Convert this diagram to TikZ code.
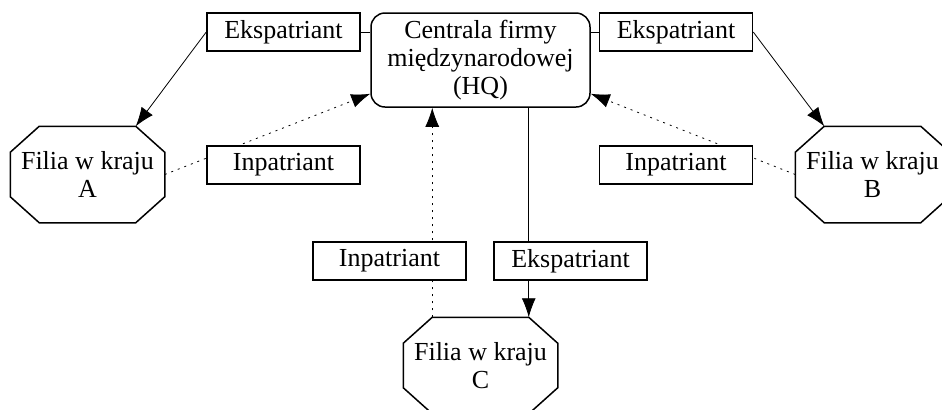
\documentclass[tikz,border=0pt]{standalone}
\usepackage{fontspec}
\setmainfont{Liberation Serif}
\usetikzlibrary{arrows.meta, backgrounds}
\newcommand{\cutx}{14.5pt}
\newcommand{\cuty}{13pt}
% octagon round a node, corners of its top edge named <node>-tl and <node>-tr
\newcommand{\octo}[1]{%
  \draw ([xshift=\cutx]#1.north west) coordinate (#1-tl)
     -- ([xshift=-\cutx]#1.north east) coordinate (#1-tr)
     -- ([yshift=-\cuty]#1.north east) -- ([yshift=\cuty]#1.south east)
     -- ([xshift=-\cutx]#1.south east) -- ([xshift=\cutx]#1.south west)
     -- ([yshift=\cuty]#1.south west) -- ([yshift=-\cuty]#1.north west) -- cycle;}

\begin{document}
\begin{tikzpicture}[
      x = 0.5pt, y = -0.5pt,
      font = \fontsize{13}{14}\selectfont,
      line width = 0.75pt,
      every node/.style = {align = center, inner sep = 0pt},
      hq/.style = {draw, fill = white, rounded corners = 7pt,
                   minimum width = 109.5pt, minimum height = 47pt},
      tag/.style = {draw, fill = white, minimum width = 76.5pt, minimum height = 19pt},
      filia/.style = {minimum width = 76.5pt, minimum height = 47.5pt},
      ekspat/.style = {-{Latex[length = 9.5pt, width = 7pt]}},
      inpat/.style = {ekspat, dash pattern = on 1pt off 2.5pt}]

      \useasboundingbox (0,0) rectangle (942,409);

      \node [hq] (hq) at (480.5,60) {Centrala firmy\\międzynarodowej\\(HQ)};

      \node [filia] (filA) at (87.5,174.5) {Filia w kraju\\A};
      \node [filia] (filB) at (872.5,174.5) {Filia w kraju\\B};
      \node [filia] (filC) at (480.5,365.5) {Filia w kraju\\C};
      \octo{filA}
      \octo{filB}
      \octo{filC}

      \node [tag] (eksA) at (283.5,32) {Ekspatriant};
      \node [tag] (eksB) at (676,32) {Ekspatriant};
      \node [tag] (eksC) at (570.5,261) {Ekspatriant};
      \node [tag] (inA) at (283.5,165) {Inpatriant};
      \node [tag] (inB) at (676,165) {Inpatriant};
      \node [tag] (inC) at (389.5,261) {Inpatriant};

      \begin{scope}[on background layer]
        % ekspatrianci
        \draw (eksA) -- (eksA -| hq.west);
        \draw (eksB) -- (eksB -| hq.east);
        \draw [ekspat] (eksA.west) -- (filA-tr);
        \draw [ekspat] (eksB.east) -- (filB-tl);
        \draw [ekspat] (filC-tr |- hq.south) -- (filC-tr);
        % inpatrianci
        \draw [inpat] (filA.east) -- ([yshift=7pt]hq.south west);
        \draw [inpat] (filB.west) -- ([yshift=7pt]hq.south east);
        \draw [inpat] (filC-tl) -- (filC-tl |- hq.south);
      \end{scope}
  \end{tikzpicture}
\end{document}
